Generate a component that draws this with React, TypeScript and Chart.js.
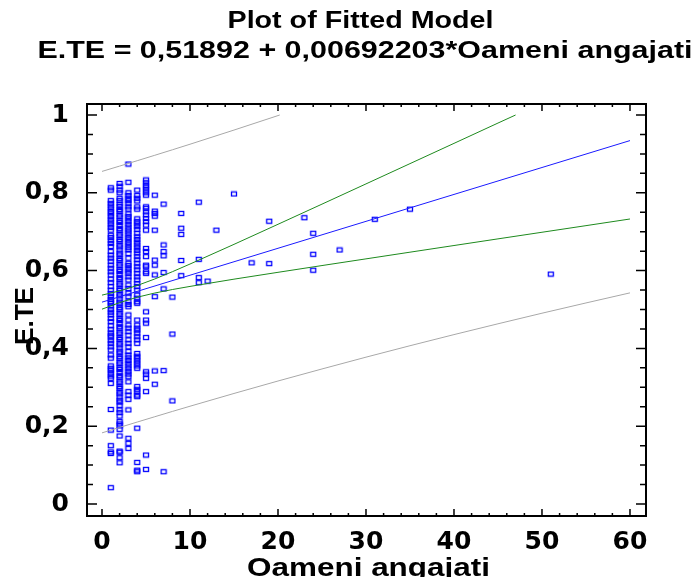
import { useEffect, useRef } from "react";
import { Chart, registerables } from "chart.js";

Chart.register(...registerables);

// ---- text ----
const titleLines = ["Plot of Fitted Model", "E.TE = 0,51892 + 0,00692203*Oameni angajati"];
const xAxisTitle = "Oameni angajati";
const yAxisTitle = "E.TE";

// ---- axis ticks ----
const xTicks = [0, 10, 20, 30, 40, 50, 60];
const yTicks = [0, 0.2, 0.4, 0.6, 0.8, 1];

// ---- observations of E.TE, grouped by Oameni angajati ----
const ete1 = [0.813, 0.807, 0.780, 0.773, 0.766, 0.759, 0.752, 0.746, 0.739, 0.732, 0.725, 0.718, 0.711, 0.704,
  0.691, 0.685, 0.677, 0.670, 0.662, 0.649, 0.640, 0.632, 0.624, 0.614, 0.606, 0.597, 0.589, 0.578, 0.569, 0.559,
  0.550, 0.541, 0.533, 0.526, 0.520, 0.516, 0.509, 0.500, 0.493, 0.486, 0.477, 0.469, 0.458, 0.449, 0.440, 0.434,
  0.429, 0.420, 0.413, 0.404, 0.396, 0.383, 0.375, 0.355, 0.349, 0.343, 0.336, 0.329, 0.323, 0.310, 0.243, 0.190,
  0.150, 0.134, 0.130, 0.042];
const ete2 = [0.824, 0.817, 0.807, 0.800, 0.786, 0.780, 0.771, 0.765, 0.757, 0.752, 0.743, 0.738, 0.729, 0.724,
  0.716, 0.708, 0.703, 0.694, 0.689, 0.680, 0.675, 0.666, 0.661, 0.653, 0.645, 0.640, 0.631, 0.626, 0.617, 0.612,
  0.603, 0.598, 0.590, 0.582, 0.577, 0.568, 0.563, 0.554, 0.549, 0.540, 0.535, 0.527, 0.519, 0.514, 0.505, 0.500,
  0.491, 0.486, 0.477, 0.472, 0.464, 0.456, 0.451, 0.442, 0.437, 0.428, 0.423, 0.414, 0.409, 0.401, 0.393, 0.388,
  0.379, 0.374, 0.365, 0.360, 0.351, 0.346, 0.338, 0.330, 0.325, 0.316, 0.311, 0.302, 0.297, 0.288, 0.283, 0.275,
  0.267, 0.262, 0.253, 0.242, 0.235, 0.226, 0.212, 0.206, 0.201, 0.192, 0.175, 0.136, 0.133, 0.119, 0.106];
const ete3 = [0.874, 0.827, 0.800, 0.793, 0.786, 0.780, 0.773, 0.764, 0.758, 0.746, 0.739, 0.733, 0.726, 0.719,
  0.712, 0.705, 0.699, 0.692, 0.685, 0.679, 0.672, 0.666, 0.659, 0.653, 0.644, 0.632, 0.619, 0.613, 0.606, 0.599,
  0.593, 0.584, 0.576, 0.563, 0.554, 0.542, 0.533, 0.520, 0.513, 0.507, 0.486, 0.473, 0.460, 0.452, 0.443, 0.434,
  0.422, 0.413, 0.404, 0.392, 0.383, 0.376, 0.369, 0.362, 0.355, 0.348, 0.341, 0.334, 0.327, 0.314, 0.289, 0.280,
  0.269, 0.242, 0.169, 0.156, 0.143];
const ete4 = [0.807, 0.793, 0.786, 0.779, 0.764, 0.758, 0.733, 0.726, 0.720, 0.713, 0.706, 0.696, 0.687, 0.680,
  0.673, 0.666, 0.659, 0.652, 0.645, 0.636, 0.628, 0.619, 0.610, 0.602, 0.593, 0.584, 0.576, 0.567, 0.559, 0.550,
  0.537, 0.529, 0.520, 0.516, 0.473, 0.460, 0.452, 0.447, 0.439, 0.430, 0.422, 0.413, 0.387, 0.380, 0.375, 0.368,
  0.362, 0.355, 0.349, 0.302, 0.295, 0.289, 0.280, 0.276, 0.195, 0.107, 0.087, 0.083];
const ete5 = [0.833, 0.826, 0.819, 0.813, 0.807, 0.800, 0.794, 0.764, 0.760, 0.751, 0.743, 0.734, 0.726, 0.717,
  0.704, 0.657, 0.649, 0.636, 0.614, 0.610, 0.597, 0.593, 0.494, 0.473, 0.465, 0.428, 0.340, 0.334, 0.323, 0.289,
  0.126, 0.089];
const ete6 = [0.794, 0.753, 0.747, 0.740, 0.704, 0.627, 0.614, 0.589, 0.533, 0.342, 0.308];
const ete7 = [0.771, 0.666, 0.649, 0.638, 0.595, 0.553, 0.343, 0.083];
const ete8 = [0.532, 0.437, 0.265];
const ete9 = [0.747, 0.709, 0.693, 0.626, 0.587];
const ete11 = [0.776, 0.629, 0.582, 0.569];

// scattered firms with more employees
const sparseOameni = [12, 13, 15, 17, 19, 19, 23, 24, 24, 24, 27, 31, 35, 51];
const sparseETE = [0.573, 0.704, 0.797, 0.620, 0.727, 0.618, 0.736, 0.696, 0.642, 0.601, 0.653, 0.732, 0.758, 0.591];

// ---- fitted model and its limits ----
const fittedX = [0, 60];
const fittedY = [0.51892, 0.93424];

const confUpperX = [0, 2, 4, 6, 8, 10, 15, 20, 25, 30, 35, 40, 45, 47];
const confUpperY = [0.5370, 0.5478, 0.5617, 0.5785, 0.5972, 0.6169, 0.6675, 0.7191, 0.7709, 0.8229, 0.8750, 0.9271, 0.9793, 1.0];
const confLowerX = [0, 2, 4, 6, 8, 10, 15, 20, 25, 30, 35, 40, 45, 50, 55, 60];
const confLowerY = [0.5009, 0.5177, 0.5316, 0.5424, 0.5514, 0.5594, 0.5780, 0.5956, 0.6130, 0.6302, 0.6474, 0.6645, 0.6816, 0.6986, 0.7156, 0.7327];

const predUpperX = [0, 2, 4, 6, 8, 10, 15, 20.2];
const predUpperY = [0.8550, 0.8687, 0.8825, 0.8965, 0.9106, 0.9249, 0.9613, 1.0];
const predLowerX = [0, 2, 4, 6, 8, 10, 15, 20, 25, 30, 35, 40, 45, 50, 55, 60];
const predLowerY = [0.1829, 0.1969, 0.2107, 0.2244, 0.2380, 0.2514, 0.2842, 0.3162, 0.3472, 0.3775, 0.4069, 0.4355, 0.4633, 0.4905, 0.5169, 0.5428];

const TICK_FONT = '"DejaVu Sans", "Liberation Sans", Arial, sans-serif';
const TITLE_FONT = '"Liberation Sans", Arial, Helvetica, sans-serif';

const pairs = (xs: number[], ys: number[]) => xs.map((x, i) => ({ x, y: ys[i] }));

function observationPoints() {
  const columns: [number, number[]][] = [
    [1, ete1], [2, ete2], [3, ete3], [4, ete4], [5, ete5], [6, ete6], [7, ete7], [8, ete8], [9, ete9], [11, ete11],
  ];
  const pts: { x: number; y: number }[] = [];
  columns.forEach(([x, ys]) => ys.forEach((y) => pts.push({ x, y })));
  return pts.concat(pairs(sparseOameni, sparseETE));
}

function squareMarker() {
  const c = document.createElement("canvas");
  c.width = 8;
  c.height = 7;
  const g = c.getContext("2d")!;
  g.strokeStyle = "#0000ff";
  g.lineWidth = 1.3;
  g.strokeRect(1.5, 1.5, 5, 4);
  return c;
}

const commaLabel = (v: number) => (v === 0 || v === 1 ? String(v) : v.toFixed(1).replace(".", ","));

// bold text squeezed or stretched to a given width
function wideText(ctx: CanvasRenderingContext2D, text: string, cx: number, y: number, size: number, width: number) {
  ctx.font = `bold ${size}px ${TITLE_FONT}`;
  const w = ctx.measureText(text).width;
  ctx.save();
  ctx.translate(cx, y);
  ctx.scale(width / w, 1);
  ctx.fillText(text, 0, 0);
  ctx.restore();
}

// frame with inward ticks on all four sides, plus titles
const framePlugin = {
  id: "frameAndTitles",
  afterDraw(chart: any) {
    const { ctx, chartArea: a, scales } = chart;
    const xs = scales.x;
    const ys = scales.y;
    ctx.save();
    ctx.strokeStyle = "#000";
    ctx.lineWidth = 1.5;
    ctx.beginPath();
    for (let i = 0; i <= 30; i++) {
      const px = xs.getPixelForValue(i * 2);
      const len = i % 5 === 0 ? 7 : 3;
      ctx.moveTo(px, a.bottom);
      ctx.lineTo(px, a.bottom - len);
      ctx.moveTo(px, a.top);
      ctx.lineTo(px, a.top + len);
    }
    for (let i = 0; i <= 20; i++) {
      const py = ys.getPixelForValue(i * 0.05);
      const len = i % 4 === 0 ? 10 : 6;
      ctx.moveTo(a.left, py);
      ctx.lineTo(a.left + len, py);
      ctx.moveTo(a.right, py);
      ctx.lineTo(a.right - len, py);
    }
    ctx.stroke();
    ctx.lineWidth = 2;
    ctx.strokeRect(a.left, a.top, a.right - a.left, a.bottom - a.top);

    ctx.fillStyle = "#000";
    ctx.textAlign = "center";
    ctx.textBaseline = "alphabetic";
    wideText(ctx, titleLines[0], 360.5, 28, 23, 266);
    wideText(ctx, titleLines[1], 365, 58, 23, 655);
    wideText(ctx, xAxisTitle, 368.5, 576, 26, 243);

    ctx.save();
    ctx.translate(33, 316);
    ctx.rotate(-Math.PI / 2);
    wideText(ctx, yAxisTitle, 0, 0, 26, 58);
    ctx.restore();
    ctx.restore();
  },
};

export default function App() {
  const ref = useRef<HTMLCanvasElement>(null);

  useEffect(() => {
    if (!ref.current) return;
    const lineSet = (data: { x: number; y: number }[], color: string) => ({
      data,
      showLine: true,
      borderColor: color,
      borderWidth: 1,
      pointRadius: 0,
      fill: false,
      tension: 0,
      order: 0,
    });
    const chart = new Chart(ref.current, {
      type: "scatter",
      data: {
        datasets: [
          lineSet(pairs(fittedX, fittedY), "#1a1aff"),
          lineSet(pairs(confUpperX, confUpperY), "#1e8a1e"),
          lineSet(pairs(confLowerX, confLowerY), "#1e8a1e"),
          lineSet(pairs(predUpperX, predUpperY), "#a8a8a8"),
          lineSet(pairs(predLowerX, predLowerY), "#a8a8a8"),
          {
            data: observationPoints(),
            showLine: false,
            pointStyle: squareMarker(),
            pointRadius: 3,
            order: 1,
          } as any,
        ],
      },
      options: {
        animation: false,
        responsive: true,
        maintainAspectRatio: false,
        layout: { padding: { left: 0, right: 48, top: 104, bottom: 0 } },
        plugins: { legend: { display: false }, tooltip: { enabled: false }, title: { display: false } },
        scales: {
          x: {
            type: "linear",
            min: -1.705,
            max: 61.82,
            grid: { display: false },
            border: { display: false },
            afterBuildTicks: (s: any) => {
              s.ticks = xTicks.map((value) => ({ value }));
            },
            afterFit: (s: any) => {
              s.height = 61;
            },
            ticks: {
              autoSkip: false,
              maxRotation: 0,
              minRotation: 0,
              padding: 3,
              color: "#000",
              font: { family: TICK_FONT, size: 25, weight: "bold" },
              callback: (v: any) => String(v),
            },
          },
          y: {
            type: "linear",
            min: -0.0308,
            max: 1.0283,
            grid: { display: false },
            border: { display: false },
            afterBuildTicks: (s: any) => {
              s.ticks = yTicks.map((value) => ({ value }));
            },
            afterFit: (s: any) => {
              s.width = 87;
            },
            ticks: {
              autoSkip: false,
              padding: 10,
              color: "#000",
              font: { family: TICK_FONT, size: 25, weight: "bold" },
              callback: (v: any) => commaLabel(Number(v)),
            },
          },
        },
      },
      plugins: [framePlugin],
    });
    return () => chart.destroy();
  }, []);

  return (
    <div style={{ position: "absolute", left: 0, top: 0, width: 694, height: 577, background: "#fff" }}>
      <canvas ref={ref} />
    </div>
  );
}
